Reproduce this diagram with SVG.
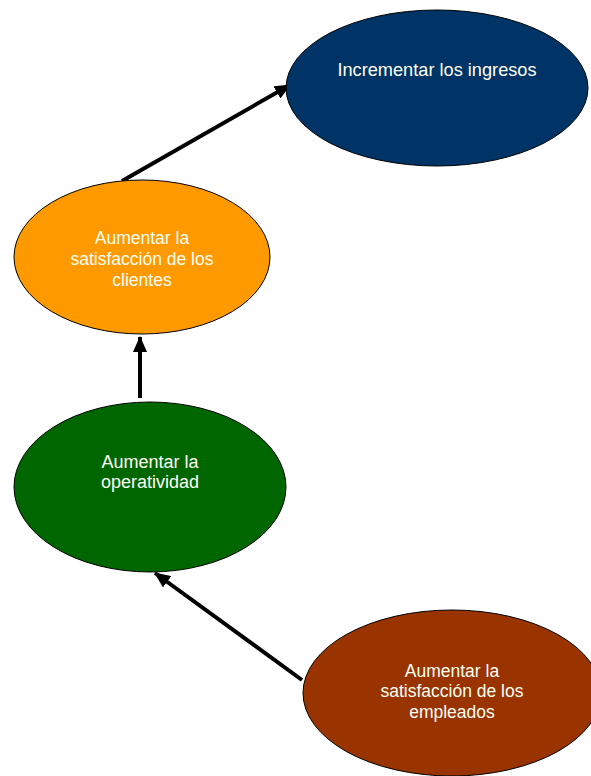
<svg xmlns="http://www.w3.org/2000/svg" width="591" height="776" viewBox="0 0 591 776">
  <style>
    .node ellipse { stroke: #000000; stroke-width: 1; }
    .node text { font-family: "Liberation Sans", Arial, sans-serif; fill: #FFFFF4; text-anchor: middle; }
    .link { stroke: #000000; stroke-width: 4; fill: none; marker-end: url(#arrow); }
  </style>
  <defs>
    <marker id="arrow" markerUnits="userSpaceOnUse" markerWidth="16" markerHeight="14" refX="15" refY="7" orient="auto">
      <path d="M0,0 L16,7 L0,14 Z" fill="#000000"/>
    </marker>
  </defs>
  <rect width="591" height="776" fill="#FFFFFF"/>

  <g id="connectors">
    <line class="link" x1="122" y1="181" x2="290" y2="85"/>
    <line class="link" x1="140" y1="398" x2="140" y2="337"/>
    <line class="link" x1="302" y1="680" x2="155" y2="573"/>
  </g>

  <g id="node-ingresos" class="node">
    <ellipse cx="437" cy="88" rx="151" ry="78" fill="#003366"/>
    <text x="437" y="76" font-size="18.2">Incrementar los ingresos</text>
  </g>

  <g id="node-clientes" class="node">
    <ellipse cx="142" cy="257" rx="128" ry="77" fill="#FF9900"/>
    <text x="142" y="244" font-size="17.5">Aumentar la</text>
    <text x="142" y="265" font-size="17.5">satisfacción de los</text>
    <text x="142" y="286" font-size="17.5">clientes</text>
  </g>

  <g id="node-operatividad" class="node">
    <ellipse cx="150" cy="487" rx="136" ry="85" fill="#006600"/>
    <text x="150" y="468" font-size="18">Aumentar la</text>
    <text x="150" y="488" font-size="18">operatividad</text>
  </g>

  <g id="node-empleados" class="node">
    <ellipse cx="452" cy="693" rx="149" ry="83" fill="#993300"/>
    <text x="452" y="677" font-size="17.5">Aumentar la</text>
    <text x="452" y="697" font-size="17.5">satisfacción de los</text>
    <text x="452" y="718" font-size="17.5">empleados</text>
  </g>
</svg>
